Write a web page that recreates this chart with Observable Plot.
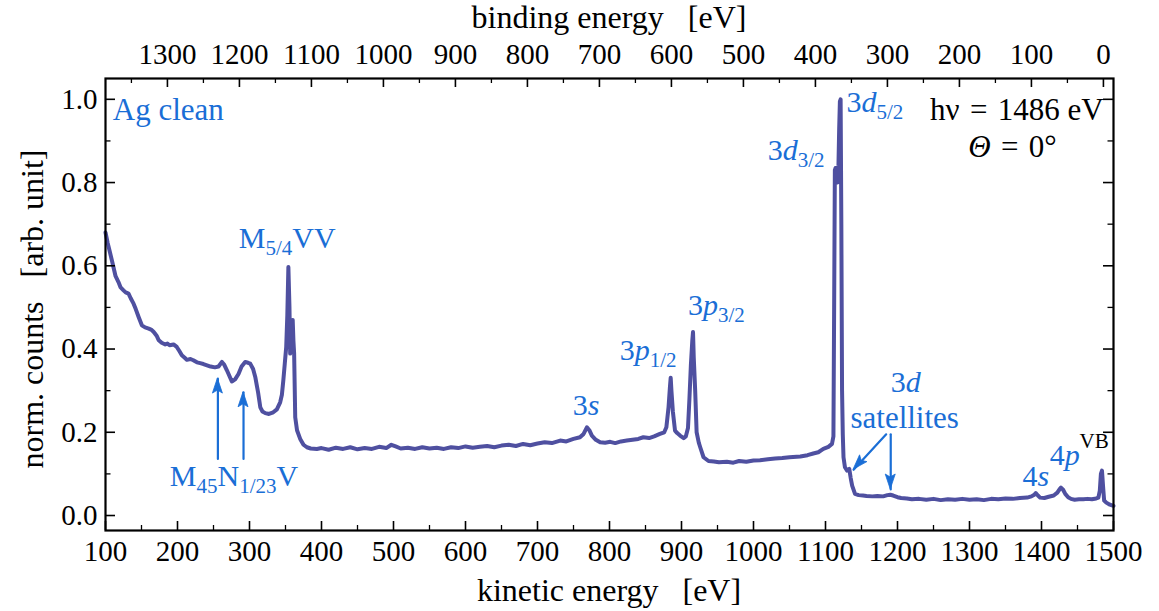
<!DOCTYPE html>
<html><head><meta charset="utf-8">
<script src="https://cdn.jsdelivr.net/npm/d3@7"></script>
<script src="https://cdn.jsdelivr.net/npm/@observablehq/plot@0.6"></script>
<style>
body{margin:0;background:#fff}
svg{display:block}
#chart svg text{font-family:"Liberation Serif","Times New Roman",serif !important}
</style>
</head><body><div id="chart"></div>
<script>
// kinetic energy [eV]
const KE = [100,103,106.5,109,111,114,118,121,125,128,132,135,139,142,146,150.5,155,160,164,167,171,174,178,183,186,189,194.5,199,203,206,210,213,218,222,227,231.5,236,241,246,252,257,261.7,265,268.6,275.5,280,284.7,289,294,298,301,305,308,312,315,318,322,327,333,338,342.6,345,347,349,351,352.5,354,355.5,356.5,358,360,361,362,363.5,366,370.4,375,379.7,385,393.6,
400,410,420,430,440,450,460,470,480,490,497,503,510,520,530,540,550,560,570,580,590,600,610,620,630,640,650,660,670,680,690,700,710,720,731.5,740,750,759,764,768.6,772,775.5,781,787,794,801,808,816,824,832,840,847,855,862,870,876,879,882,884,885,886,888,891,894,898,903,906,909,911,913,915,916,917,919,921,924,926,930.6,937.5,945,952,963,972,980,990,1000,1009,1020,1030,1040,1050,1065,1075,1083,1090,1097,1104,1109,1111,1112,1113,1114,1115,1116.5,1118,1119,1120,1121,1122,1123,1124,1125,1127,1130,1133,1135,1137,1141,1146,1152,1157,1165,1172,1180,1186,1190,1194,1200,1205,1213,1220,1230,1240,1250,1260,1270,1280,1290,1300,1310,1320,1330,1340,1350,1360,1370,1380,1386,1390,1392,1395,1398,1404,1410,1417,1422,1425,1427,1430,1433,1437,1441,1446,1452,1458,1464,1470,1476,1479,1481,1482.5,1484,1485.5,1487,1490,1495,1500];
// normalised counts [arb. unit]
const COUNTS = [0.68,0.655,0.63,0.612,0.597,0.575,0.561,0.548,0.541,0.536,0.533,0.522,0.509,0.496,0.477,0.457,0.452,0.449,0.446,0.441,0.432,0.421,0.415,0.411,0.413,0.409,0.411,0.405,0.394,0.385,0.379,0.374,0.376,0.373,0.368,0.366,0.364,0.361,0.358,0.356,0.358,0.369,0.362,0.349,0.322,0.327,0.34,0.358,0.369,0.367,0.365,0.352,0.333,0.295,0.26,0.25,0.246,0.244,0.248,0.255,0.272,0.29,0.325,0.365,0.405,0.48,0.597,0.5,0.389,0.43,0.47,0.42,0.389,0.236,0.205,0.184,0.17,0.164,0.161,0.16,
0.162,0.158,0.163,0.160,0.164,0.159,0.162,0.160,0.165,0.162,0.170,0.166,0.161,0.163,0.160,0.164,0.161,0.163,0.160,0.164,0.162,0.166,0.163,0.165,0.167,0.164,0.168,0.170,0.167,0.172,0.169,0.173,0.176,0.174,0.18,0.178,0.184,0.188,0.196,0.212,0.205,0.192,0.182,0.176,0.175,0.177,0.174,0.178,0.18,0.182,0.184,0.188,0.186,0.19,0.196,0.2,0.212,0.26,0.31,0.331,0.3,0.25,0.204,0.198,0.192,0.186,0.19,0.21,0.28,0.36,0.42,0.441,0.38,0.3,0.2,0.175,0.164,0.14,0.131,0.13,0.128,0.129,0.127,0.131,0.129,0.132,0.133,0.135,0.137,0.138,0.14,0.142,0.145,0.149,0.152,0.160,0.165,0.172,0.19,0.5,0.83,0.835,0.82,0.8,0.84,0.93,0.995,1.0,0.7,0.3,0.196,0.14,0.116,0.108,0.112,0.09,0.072,0.052,0.049,0.048,0.047,0.046,0.047,0.046,0.049,0.05,0.048,0.044,0.042,0.041,0.039,0.040,0.038,0.040,0.037,0.039,0.038,0.040,0.038,0.039,0.037,0.040,0.039,0.041,0.040,0.042,0.043,0.046,0.05,0.054,0.048,0.043,0.042,0.045,0.048,0.055,0.063,0.067,0.062,0.052,0.044,0.04,0.038,0.039,0.039,0.040,0.039,0.041,0.043,0.06,0.1,0.108,0.07,0.036,0.031,0.026,0.023];

const xMajor = [100,200,300,400,500,600,700,800,900,1000,1100,1200,1300,1400,1500];
const xMinor = [150,250,350,450,550,650,750,850,950,1050,1150,1250,1350,1450];
const beMajor = [0,100,200,300,400,500,600,700,800,900,1000,1100,1200,1300];
const beMinor = [50,150,250,350,450,550,650,750,850,950,1050,1150,1250,1350];
const yMajor = [0,0.2,0.4,0.6,0.8,1.0];
const yMinor = [0.1,0.3,0.5,0.7,0.9];
const HV = 1486;

const arrows = [
  {x1:256.1, y1:0.136, x2:256.1, y2:0.329},
  {x1:291.7, y1:0.136, x2:291.7, y2:0.296},
  {x1:1184.3, y1:0.195, x2:1139, y2:0.11},
  {x1:1190.6, y1:0.195, x2:1190.6, y2:0.0625}
];

const BLUE = "#1a6ed6";
const LINE = "#4f50a0";
// annotations: position in (kinetic energy, counts)
const labels = [
  {x:110.8, y:0.9495, anchor:"start", color:BLUE, size:31, parts:[{t:"Ag clean"}]},
  {x:1487, y:0.9495, anchor:"end", color:"#000", size:31, parts:[{t:"hν\u2004=\u20041486 eV"}]},
  {x:1421.8, y:0.8606, anchor:"end", color:"#000", size:31, parts:[{t:"Θ", i:true},{t:"\u2004=\u20040°"}]},
  {x:285.7, y:0.642, anchor:"start", color:BLUE, size:30, parts:[{t:"M"},{t:"5/4", sub:true},{t:"VV"}]},
  {x:190, y:0.0697, anchor:"start", color:BLUE, size:30, parts:[{t:"M"},{t:"45", sub:true},{t:"N"},{t:"1/23", sub:true},{t:"V"}]},
  {x:749.6, y:0.240, anchor:"start", color:BLUE, size:30, parts:[{t:"3"},{t:"s", i:true}]},
  {x:814.9, y:0.3726, anchor:"start", color:BLUE, size:30, parts:[{t:"3"},{t:"p", i:true},{t:"1/2", sub:true}]},
  {x:909.7, y:0.4808, anchor:"start", color:BLUE, size:30, parts:[{t:"3"},{t:"p", i:true},{t:"3/2", sub:true}]},
  {x:1020.4, y:0.853, anchor:"start", color:BLUE, size:30, parts:[{t:"3"},{t:"d", i:true},{t:"3/2", sub:true}]},
  {x:1129.7, y:0.9695, anchor:"start", color:BLUE, size:30, parts:[{t:"3"},{t:"d", i:true},{t:"5/2", sub:true}]},
  {x:1212, y:0.2964, anchor:"middle", color:BLUE, size:30, parts:[{t:"3"},{t:"d", i:true}]},
  {x:1210.7, y:0.2084, anchor:"middle", color:BLUE, size:31, parts:[{t:"satellites"}]},
  {x:1374.2, y:0.0697, anchor:"start", color:BLUE, size:30, parts:[{t:"4"},{t:"s", i:true}]},
  {x:1412, y:0.1202, anchor:"start", color:BLUE, size:30, parts:[{t:"4"},{t:"p", i:true}]},
  {x:1453.5, y:0.1618, anchor:"start", color:"#000", size:21, parts:[{t:"VB"}]}
];

const data = KE.map((k,i)=>({ke:k, c:COUNTS[i]}));
const W = 1159, H = 611, mL = 105, mR = 46, mT = 78, mB = 81;
const pH = H - mT - mB, pW = W - mL - mR;
const FONT = "Liberation Serif";

const plot = Plot.plot({
  width: W, height: H,
  marginLeft: mL, marginRight: mR, marginTop: mT, marginBottom: mB,
  x: {domain: [100, 1500]},
  y: {domain: [-0.036, 1.05]},
  style: {fontFamily: FONT, fontSize: "29px", color: "#000", background: "#fff"},
  marks: [
    Plot.line(data, {x: "ke", y: "c", stroke: LINE, strokeWidth: 4, strokeLinejoin: "round"}),
    Plot.arrow(arrows, {x1:"x1", y1:"y1", x2:"x2", y2:"y2", stroke: BLUE, strokeWidth: 2.2, headLength: 0}),
    Plot.tickX(xMajor, {x: d => d, insetTop: pH - 9, stroke: "#000", strokeWidth: 1.6}),
    Plot.tickX(xMinor, {x: d => d, insetTop: pH - 5, stroke: "#000", strokeWidth: 1.3}),
    Plot.tickX(beMajor, {x: d => HV - d, insetBottom: pH - 9, stroke: "#000", strokeWidth: 1.6}),
    Plot.tickX(beMinor.filter(d => HV - d >= 100), {x: d => HV - d, insetBottom: pH - 5, stroke: "#000", strokeWidth: 1.3}),
    Plot.tickY(yMajor, {y: d => d, insetRight: pW - 10, stroke: "#000", strokeWidth: 1.6}),
    Plot.tickY(yMinor, {y: d => d, insetRight: pW - 5.5, stroke: "#000", strokeWidth: 1.3}),
    Plot.tickY(yMajor, {y: d => d, insetLeft: pW - 10, stroke: "#000", strokeWidth: 1.6}),
    Plot.tickY(yMinor, {y: d => d, insetLeft: pW - 5.5, stroke: "#000", strokeWidth: 1.3}),
    Plot.frame({stroke: "#000", strokeWidth: 2.2}),
    Plot.axisX(xMajor, {anchor: "bottom", tickSize: 0, tickPadding: 10, label: null, tickFormat: d => String(d)}),
    Plot.axisX(beMajor.map(d => HV - d), {anchor: "top", tickSize: 0, tickPadding: 15, label: null, tickFormat: d => String(HV - d)}),
    Plot.axisY(yMajor, {anchor: "left", tickSize: 0, tickPadding: 8, label: null, tickFormat: d => d.toFixed(1)})
  ]
});
document.getElementById("chart").appendChild(plot);

const svg = d3.select(plot);
const sx = plot.scale("x"), sy = plot.scale("y");
const g = svg.append("g");

// filled arrow heads at the arrow tips (positions through the plot scales)
for (const a of arrows) {
  const X1 = sx.apply(a.x1), Y1 = sy.apply(a.y1), X2 = sx.apply(a.x2), Y2 = sy.apply(a.y2);
  const dx = X2 - X1, dy = Y2 - Y1, len = Math.hypot(dx, dy), ux = dx / len, uy = dy / len;
  const hl = 15, hw = 5;
  const bx = X2 - ux * hl, by = Y2 - uy * hl;
  g.append("path")
    .attr("d", `M${X2},${Y2}L${bx - uy * hw},${by + ux * hw}L${bx + ux * 3},${by + uy * 3}L${bx + uy * hw},${by - ux * hw}Z`)
    .attr("fill", BLUE).attr("stroke", BLUE).attr("stroke-width", 0.8);
}

for (const L of labels) {
  const size = L.size || 29;
  const t = g.append("text")
    .attr("x", sx.apply(L.x)).attr("y", sy.apply(L.y))
    .attr("text-anchor", L.anchor).attr("fill", L.color)
    .attr("font-size", size).style("white-space", "pre");
  let shifted = false;
  for (const p of L.parts) {
    const s = t.append("tspan").text(p.t);
    if (p.i) s.attr("font-style", "italic");
    if (p.sub) { s.attr("font-size", 21).attr("dy", 7); shifted = true; }
    else if (shifted) { s.attr("dy", -7); shifted = false; }
  }
}

// axis titles
g.append("text").attr("x", (mL + W - mR) / 2).attr("y", 601).attr("text-anchor", "middle")
  .attr("font-size", 32).style("white-space", "pre").text("kinetic energy   [eV]");
g.append("text").attr("x", (mL + W - mR) / 2).attr("y", 28).attr("text-anchor", "middle")
  .attr("font-size", 32).style("white-space", "pre").text("binding energy   [eV]");
g.append("text").attr("transform", "translate(43,309) rotate(-90)").attr("text-anchor", "middle")
  .attr("font-size", 32).style("white-space", "pre").text("norm. counts   [arb. unit]");
</script>
</body></html>
